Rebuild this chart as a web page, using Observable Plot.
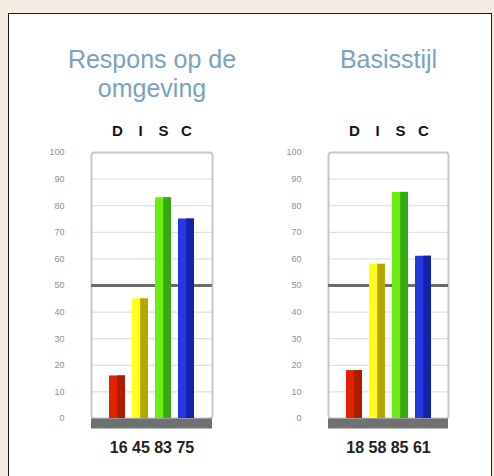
<!DOCTYPE html>
<html><head><meta charset="utf-8">
<script src="https://cdn.jsdelivr.net/npm/d3@7"></script>
<script src="https://cdn.jsdelivr.net/npm/@observablehq/plot@0.6"></script>
<style>
html,body{margin:0;padding:0}
body{background:#f6ede2;width:494px;height:476px;overflow:hidden;position:relative;font-family:"Liberation Sans",Arial,sans-serif}
#panel{position:absolute;left:8px;top:13px;width:484px;height:480px;background:#fff;border:1.5px solid #1a1a1a;box-sizing:border-box}
.chart{position:absolute;top:0}
</style></head><body>
<div id="panel"></div>
<div id="c1" class="chart" style="left:0px"></div>
<div id="c2" class="chart" style="left:247px"></div>
<script>
const categories = ["D", "I", "S", "C"];
const valuesResponse = [16, 45, 83, 75];
const valuesBasis = [18, 58, 85, 61];
const titleResponse = "Respons op de\nomgeving";
const titleBasis = "Basisstijl";
const yTicks = [0, 10, 20, 30, 40, 50, 60, 70, 80, 90, 100];
const gridTicks = [10, 20, 30, 40, 60, 70, 80, 90];
const midline = [50];
const baseline = [0];
const lightColors = ["#e12400", "#ffff1e", "#6cee12", "#2438de"];
const darkColors = ["#b01c00", "#b4a800", "#36a914", "#1222ac"];

function makeChart(values, title, marginLeft, marginRight) {
  const data = categories.map((c, i) => ({cat: c, value: values[i], light: lightColors[i], dark: darkColors[i]}));
  return Plot.plot({
    width: 247,
    height: 476,
    marginTop: 152,
    marginBottom: 58,
    marginLeft,
    marginRight,
    style: {background: "transparent", color: "#8f8f8f", fontSize: "9px", fontFamily: "'Liberation Sans', Arial, sans-serif"},
    x: {domain: categories, paddingInner: 0.31, paddingOuter: 0.68, axis: null},
    y: {domain: [0, 100], ticks: yTicks, tickSize: 0, tickPadding: 27, label: null, tickFormat: d => String(d)},
    color: {type: "identity"},
    marks: [
      Plot.ruleY(gridTicks, {stroke: "#d9d9d9", strokeWidth: 1}),
      Plot.frame({stroke: "#c8c8c8", strokeWidth: 2, rx: 3}),
      Plot.ruleY(midline, {stroke: "#6c6c6c", strokeWidth: 3}),
      Plot.barY(data, {x: "cat", y: "value", fill: "light"}),
      Plot.barY(data, {x: "cat", y: "value", fill: "dark", insetLeft: 8.2}),
      Plot.ruleY(baseline, {stroke: "#6f7171", strokeWidth: 10, dy: 5}),
      Plot.text(categories, {x: d => d, frameAnchor: "top", dy: -27.5, fontSize: 15, fontWeight: "bold", fill: "#141414"}),
      Plot.text([title], {frameAnchor: "top", dy: -105.5, lineAnchor: "top", lineHeight: 1.18, fontSize: 25, fill: "#7aa2bf"}),
      Plot.text([values.join(" ")], {frameAnchor: "bottom", dy: 34, fontSize: 16, fontWeight: "bold", fill: "#222"})
    ]
  });
}

document.getElementById("c1").append(makeChart(valuesResponse, titleResponse, 91, 35));
document.getElementById("c2").append(makeChart(valuesBasis, titleBasis, 81, 46));
</script>
</body></html>
